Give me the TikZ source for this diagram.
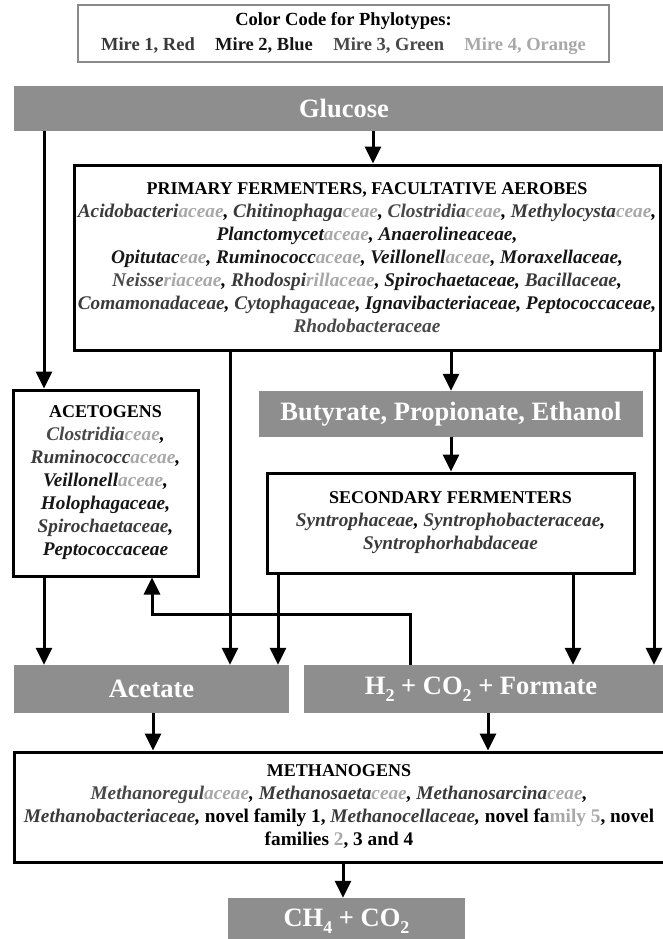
\documentclass[tikz,border=0pt]{standalone}
\usepackage{fontspec}
\setmainfont{Liberation Serif}
\usetikzlibrary{arrows.meta}
\definecolor{boxgray}{HTML}{8E8E8E}
\definecolor{cR}{HTML}{3A3A3A}
\definecolor{cB}{HTML}{161616}
\definecolor{cG}{HTML}{484848}
\definecolor{cO}{HTML}{A8A8A8}
\definecolor{legframe}{HTML}{8A8A8A}
\newcommand*\phR[1]{\textcolor{cR}{#1}}
\newcommand*\phB[1]{\textcolor{cB}{#1}}
\newcommand*\phG[1]{\textcolor{cG}{#1}}
\newcommand*\phO[1]{\textcolor{cO}{#1}}
\newcommand*\ttl[1]{{\fontsize{18}{23}\selectfont #1}}
\newcommand*\lowsub[1]{\raisebox{-0.28em}{\fontsize{18}{18}\selectfont #1}}
\tikzset{
  graybox/.style={fill=boxgray, draw=none, text=white, inner sep=0pt,
    font=\fontsize{26.5}{30}\selectfont\bfseries},
  whitebox/.style={draw=black, line width=3pt, fill=white, align=center, inner sep=0pt,
    font=\fontsize{19.3}{23}\selectfont\bfseries},
  legendbox/.style={draw=legframe, line width=1.3pt, fill=white, align=center, inner sep=0pt,
    font=\fontsize{18.5}{25}\selectfont\bfseries},
  conn/.style={line width=3pt, -{Triangle[width=16pt,length=17pt]}},
}
\begin{document}
\begin{tikzpicture}[x=1pt,y=-1pt]
\useasboundingbox (0,0) rectangle (662,939);

% legend
\node[legendbox, minimum width=531pt, minimum height=57pt] (legend) at (343.5,33.5)
  {Color Code for Phylotypes:\\
   \phR{Mire 1, Red}\hspace{1.1em}\phB{Mire 2, Blue}\hspace{1.1em}\phG{Mire 3, Green}\hspace{1.1em}\phO{Mire 4, Orange}};

% substrate / product boxes
\node[graybox, minimum width=660pt, minimum height=45pt] (glucose) at (344,108.5) {Glucose};
\node[graybox, minimum width=384pt, minimum height=46pt] (butyrate) at (451,414) {Butyrate, Propionate, Ethanol};
\node[graybox, minimum width=275pt, minimum height=48pt] (acetate) at (151.5,689) {Acetate};
\node[graybox, minimum width=366pt, minimum height=48pt] (h2) at (487,689)
  {\hspace*{-12pt}H\lowsub{2} + CO\lowsub{2} + Formate};
\node[graybox, minimum width=237pt, minimum height=47pt] (ch4) at (346.5,921.5)
  {CH\lowsub{4} + CO\lowsub{2}};

% organism boxes
\node[whitebox, minimum width=586pt, minimum height=185pt] (primary) at (367,257.5)
  {\ttl{PRIMARY FERMENTERS, FACULTATIVE AEROBES}\\
   \itshape\phR{Acidobacteri}\phO{aceae}, \phR{Chitinophaga}\phO{ceae}, \phG{Clostridia}\phO{ceae}, \phR{Methylocysta}\phO{ceae},\\
   \itshape\phB{Planctomycet}\phO{aceae}, \phB{Anaerolineaceae},\\
   \itshape\phB{Opitutac}\phO{eae}, \phB{Ruminococc}\phO{aceae}, \phB{Veillonell}\phO{aceae}, \phB{Moraxellaceae},\\
   \itshape\phG{Neisse}\phO{riaceae}, \phR{Rhodospi}\phO{rillaceae}, \phB{Spirochaetaceae}, \phR{Bacillaceae},\\
   \itshape\phR{Comamonadaceae}, \phR{Cytophagaceae}, \phB{Ignavibacteriaceae}, \phB{Peptococcaceae},\\
   \itshape\phG{Rhodobacteraceae}};

\node[whitebox, minimum width=185pt, minimum height=186pt] (acetogens) at (105.5,483)
  {\ttl{ACETOGENS}\\
   \itshape\phG{Clostridia}\phO{ceae},\\
   \itshape\phR{Ruminococc}\phO{aceae},\\
   \itshape\phB{Veillonell}\phO{aceae},\\
   \itshape\phB{Holophagaceae},\\
   \itshape\phR{Spirochaetaceae},\\
   \itshape\phB{Peptococcaceae}};

\node[whitebox, minimum width=367pt, minimum height=100pt] (secondary) at (450.5,523)
  {\ttl{SECONDARY FERMENTERS}\\
   \itshape\phR{Syntrophaceae}, \phR{Syntrophobacteraceae},\\
   \itshape\phR{Syntrophorhabdaceae}};

\node[whitebox, minimum width=650pt, minimum height=110pt] (methanogens) at (339,807)
  {\ttl{METHANOGENS}\\
   \itshape\phG{Methanoregul}\phO{aceae}, \phR{Methanosaeta}\phO{ceae}, \phR{Methanosarcina}\phO{ceae},\\
   \itshape\phR{Methanobacteriaceae}, \upshape novel family 1, \itshape\phR{Methanocellaceae}, \upshape novel fa\phO{mily 5}, novel\\
   families \phO{2}, 3 and 4};

% connector columns
\coordinate (xa) at (44,0);
\coordinate (xg) at (373,0);
\coordinate (xp1) at (230,0);
\coordinate (xp2) at (451,0);
\coordinate (xp3) at (654,0);
\coordinate (xs1) at (278,0);
\coordinate (xs2) at (573,0);
\coordinate (xm1) at (153,0);
\coordinate (xm2) at (488,0);
\coordinate (xc) at (343,0);
\coordinate (fb1) at (410,614);
\coordinate (fb2) at (152,614);

\draw[conn] (glucose.south -| xa) -- (acetogens.north -| xa);
\draw[conn] (glucose.south -| xg) -- (primary.north -| xg);
\draw[conn] (primary.south -| xp1) -- (acetate.north -| xp1);
\draw[conn] (primary.south -| xp2) -- (butyrate.north -| xp2);
\draw[conn] (primary.south -| xp3) -- (h2.north -| xp3);
\draw[conn] (butyrate.south -| xp2) -- (secondary.north -| xp2);
\draw[conn] (secondary.south -| xs1) -- (acetate.north -| xs1);
\draw[conn] (secondary.south -| xs2) -- (h2.north -| xs2);
\draw[conn] (acetogens.south -| xa) -- (acetate.north -| xa);
\draw[conn] (h2.north -| fb1) -- (fb1) -- (fb2) -- (acetogens.south -| fb2);
\draw[conn] (acetate.south -| xm1) -- (methanogens.north -| xm1);
\draw[conn] (h2.south -| xm2) -- (methanogens.north -| xm2);
\draw[conn] (methanogens.south -| xc) -- (ch4.north -| xc);
\end{tikzpicture}
\end{document}
